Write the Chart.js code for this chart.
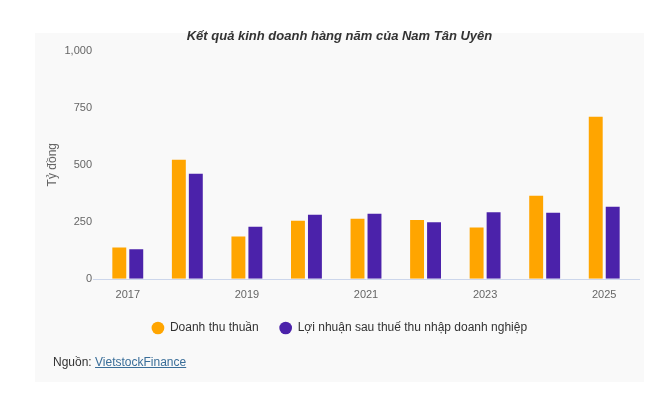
<!DOCTYPE html>
<html>
<head>
<meta charset="utf-8">
<script src="https://cdn.jsdelivr.net/npm/chart.js@4/dist/chart.umd.min.js"></script>
<style>
  html, body { margin: 0; padding: 0; background: #fff; }
  #wrap { position: relative; width: 666px; height: 401px; }
  #credits {
    position: absolute; left: 53px; top: 355px;
    font: 12px "Liberation Sans", Arial, sans-serif; color: #333;
  }
  #credits a { color: #3a6e99; text-decoration: underline; }
</style>
</head>
<body>
<div id="wrap">
  <canvas id="chart" width="666" height="401"></canvas>
  <div id="credits">Nguồn: <a href="#">VietstockFinance</a></div>
</div>
<script>
const years = ['2017', '2018', '2019', '2020', '2021', '2022', '2023', '2024', '2025'];
const revenue = [137, 522, 185, 254, 263, 258, 225, 364, 710];
const profit = [130, 460, 228, 281, 285, 248, 292, 289, 316];
const yTicks = [0, 250, 500, 750, 1000];

const FONT = '"Liberation Sans", Arial, sans-serif';

// light grey panel behind the chart
const panel = {
  id: 'panel',
  beforeDraw(chart) {
    const { ctx } = chart;
    ctx.save();
    ctx.fillStyle = '#ffffff';
    ctx.fillRect(0, 0, chart.width, chart.height);
    ctx.fillStyle = '#f9f9f9';
    ctx.fillRect(35, 33, 609, 349);
    ctx.restore();
  },
  afterDatasetsDraw(chart) {
    // x axis line, a bit wider than the plot area like the original
    const { ctx, chartArea } = chart;
    const y = Math.round(chart.scales.y.getPixelForValue(0)) + 0.5;
    ctx.save();
    ctx.strokeStyle = '#ccd6eb';
    ctx.lineWidth = 1;
    ctx.beginPath();
    ctx.moveTo(chartArea.left - 5, y);
    ctx.lineTo(chartArea.right + 6, y);
    ctx.stroke();
    ctx.restore();
  }
};

new Chart(document.getElementById('chart'), {
  type: 'bar',
  data: {
    labels: years,
    datasets: [{
      label: 'Doanh thu thuần',
      data: revenue,
      backgroundColor: '#ffa500',
      categoryPercentage: 0.57,
      barPercentage: 0.82,
    }, {
      label: 'Lợi nhuận sau thuế thu nhập doanh nghiệp',
      data: profit,
      backgroundColor: '#4b22aa',
      categoryPercentage: 0.57,
      barPercentage: 0.82,
    }]
  },
  options: {
    responsive: false,
    animation: false,
    layout: { padding: { left: 45, right: 32, top: 0, bottom: 57 } },
    plugins: {
      title: {
        display: true,
        text: 'Kết quả kinh doanh hàng năm của Nam Tân Uyên',
        color: '#333333',
        font: { family: FONT, size: 13, weight: 'bold', style: 'italic' },
        padding: { top: 29, bottom: 6 },
      },
      legend: {
        position: 'bottom',
        labels: {
          usePointStyle: true,
          pointStyle: 'circle',
          boxWidth: 14,
          boxHeight: 9,
          padding: 21,
          color: '#333333',
          font: { family: FONT, size: 12 },
        }
      },
      tooltip: { enabled: false },
    },
    scales: {
      x: {
        // shrink the axis box so the plot reaches down like the original
        afterFit(scale) { scale.height -= 11; },
        grid: { display: false, drawTicks: false },
        border: { display: false },
        ticks: {
          color: '#666666',
          font: { family: FONT, size: 11 },
          padding: 10,
          maxRotation: 0,
          autoSkip: false,
          callback: (v, i) => (i % 2 === 0 ? years[i] : ''),
        },
      },
      y: {
        min: 0,
        max: 1000,
        afterFit(scale) { scale.width = 53; },
        afterBuildTicks(scale) { scale.ticks = yTicks.map(v => ({ value: v })); },
        grid: { display: false, drawTicks: false },
        border: { display: false },
        title: {
          display: true,
          text: 'Tỷ đồng',
          color: '#666666',
          font: { family: FONT, size: 12 },
          padding: 0,
        },
        ticks: {
          color: '#666666',
          font: { family: FONT, size: 11 },
          padding: 6,
          callback: v => v.toLocaleString('en-US'),
        },
      }
    }
  },
  plugins: [panel]
});
</script>
</body>
</html>
